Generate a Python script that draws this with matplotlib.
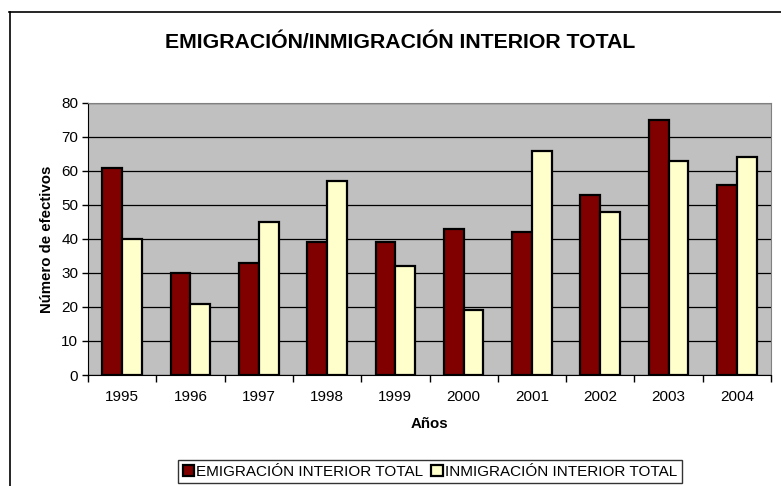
import numpy as np
import matplotlib.pyplot as plt
from matplotlib.lines import Line2D
from matplotlib.patches import Patch

plt.rcParams['font.family'] = ['Liberation Sans', 'DejaVu Sans']

years = ['1995', '1996', '1997', '1998', '1999', '2000', '2001', '2002', '2003', '2004']
emigracion = [61, 30, 33, 39, 39, 43, 42, 53, 75, 56]
inmigracion = [40, 21, 45, 57, 32, 19, 66, 48, 63, 64]
series_names = ['EMIGRACIÓN INTERIOR TOTAL', 'INMIGRACIÓN INTERIOR TOTAL']
yticks = [0, 10, 20, 30, 40, 50, 60, 70, 80]

W, H = 781, 486
fig = plt.figure(figsize=(W / 100, H / 100), dpi=100)
ax = fig.add_axes([88 / W, 1 - 375 / H, (771 - 88) / W, (375 - 103) / H])
ax.set_facecolor('#C0C0C0')

x = np.arange(len(years))
bw = 0.29
ax.bar(x - bw / 2, emigracion, bw, color='#800000', edgecolor='black', linewidth=1.6, zorder=3)
ax.bar(x + bw / 2, inmigracion, bw, color='#FFFFCC', edgecolor='black', linewidth=1.6, zorder=3)

ax.set_xlim(-0.5, len(years) - 0.5)
ax.set_ylim(0, 80)
ax.set_yticks(yticks)
ax.set_xticks(x)
ax.set_xticklabels(years, fontsize=11)
ax.set_xticks(np.arange(len(years) + 1) - 0.5, minor=True)
ax.tick_params(axis='x', which='major', length=0, pad=11)
ax.tick_params(axis='x', which='minor', length=5, width=1, direction='out')
ax.tick_params(axis='y', length=4, width=1, direction='out', labelsize=11, pad=3)
ax.grid(axis='y', color='black', linewidth=0.9, zorder=1)

for side in ['top', 'right']:
    ax.spines[side].set_color('#808080')
for side in ['left', 'bottom']:
    ax.spines[side].set_color('black')

ax.set_ylabel('Número de efectivos', fontsize=10.8, fontweight='bold', labelpad=5)
ax.set_xlabel('Años', fontsize=10.8, fontweight='bold', labelpad=9)

fig.text(400 / W, 1 - 42 / H, 'EMIGRACIÓN/INMIGRACIÓN INTERIOR TOTAL',
         ha='center', va='center', fontsize=15.3, fontweight='bold')

# outer chart frame (left and top edges visible)
fig.add_artist(Line2D([9.5 / W, 9.5 / W], [0, 1 - 12 / H], color='black', linewidth=1.2))
fig.add_artist(Line2D([9 / W, 1], [1 - 12.5 / H, 1 - 12.5 / H], color='black', linewidth=1.2))

handles = [Patch(facecolor='#800000', edgecolor='black', linewidth=1.6),
           Patch(facecolor='#FFFFCC', edgecolor='black', linewidth=1.6)]
leg = fig.legend(handles, series_names, loc='center', bbox_to_anchor=(430 / W, 1 - 471.5 / H),
                 ncol=2, fontsize=11, frameon=True, fancybox=False, edgecolor='black',
                 handlelength=0.75, handleheight=0.75, handletextpad=0.15, columnspacing=0.5,
                 borderpad=0.3, borderaxespad=0)
leg.get_frame().set_linewidth(1.0)

fig.savefig('out.png', dpi=100)
plt.close()
